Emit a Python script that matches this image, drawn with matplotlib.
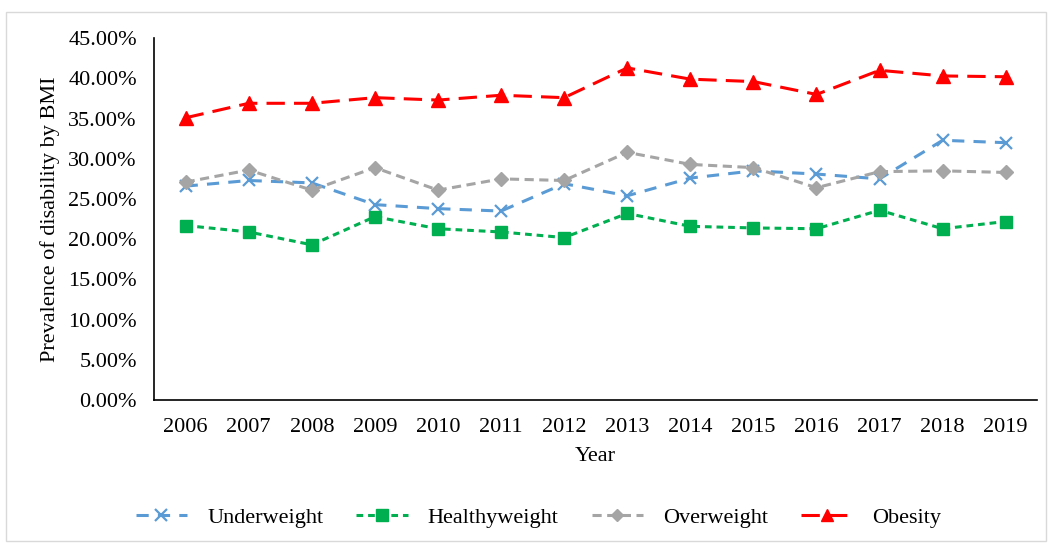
import matplotlib.pyplot as plt
from matplotlib.patches import Rectangle
from matplotlib.ticker import PercentFormatter

# -----------------------------
# DATA
# -----------------------------
years = ["2006", "2007", "2008", "2009", "2010", "2011", "2012",
         "2013", "2014", "2015", "2016", "2017", "2018", "2019"]

underweight = [26.6, 27.3, 27.0, 24.3, 23.8, 23.5, 26.9,
               25.4, 27.6, 28.5, 28.1, 27.5, 32.3, 32.0]
healthyweight = [21.7, 20.9, 19.3, 22.8, 21.3, 20.9, 20.2,
                 23.2, 21.6, 21.4, 21.3, 23.6, 21.3, 22.2]
overweight = [27.1, 28.6, 26.1, 28.9, 26.1, 27.5, 27.3,
              30.8, 29.3, 28.9, 26.4, 28.4, 28.5, 28.3]
obesity = [35.1, 36.9, 36.9, 37.6, 37.3, 37.9, 37.6,
           41.3, 39.9, 39.6, 38.0, 41.0, 40.3, 40.2]

# -----------------------------
# PLOT
# -----------------------------
plt.rcParams["font.family"] = ["Liberation Serif", "DejaVu Serif"]

fig = plt.figure(figsize=(10.52, 5.45), dpi=100)
ax = fig.add_axes([0.1465, 0.266, 0.8395, 0.664])

x = range(len(years))
ax.plot(x, underweight, color="#5B9BD5", lw=2.2, ls=(0, (4, 3)),
        marker="x", ms=9, mew=1.6, label="Underweight")
ax.plot(x, healthyweight, color="#00B050", lw=2.2, ls=(0, (2.2, 1.6)),
        marker="s", ms=9, label="Healthyweight")
ax.plot(x, overweight, color="#A5A5A5", lw=2.2, ls=(0, (3, 1.8)),
        marker="D", ms=7, label="Overweight")
ax.plot(x, obesity, color="#FF0000", lw=2.2, ls=(0, (6, 3)),
        marker="^", ms=10, label="Obesity")

ax.set_xlim(-0.5, len(years) - 0.5)
ax.set_ylim(0, 45)
ax.set_yticks(range(0, 46, 5))
ax.yaxis.set_major_formatter(PercentFormatter(decimals=2))
ax.set_xticks(list(x))
ax.set_xticklabels(years)
ax.tick_params(length=0, labelsize=16)
ax.tick_params(axis="x", pad=13)
ax.tick_params(axis="y", pad=12.5)

for side in ["top", "right"]:
    ax.spines[side].set_visible(False)
for side in ["left", "bottom"]:
    ax.spines[side].set_color("black")
    ax.spines[side].set_linewidth(1.2)

ax.set_xlabel("Year", fontsize=16, labelpad=7)
ax.set_ylabel("Prevalence of disability by BMI", fontsize=16, labelpad=6)

fig.legend(loc="center", bbox_to_anchor=(0.512, 0.05), ncol=4,
           frameon=False, fontsize=16, handlelength=2.3,
           handletextpad=0.9, columnspacing=1.5, markerscale=0.9)

# light border around the chart
fig.patches.append(Rectangle((0.006, 0.008), 0.988, 0.97,
                             transform=fig.transFigure, fill=False,
                             edgecolor="#D9D9D9", lw=1))

fig.savefig("out.png", dpi=100)
plt.close(fig)
